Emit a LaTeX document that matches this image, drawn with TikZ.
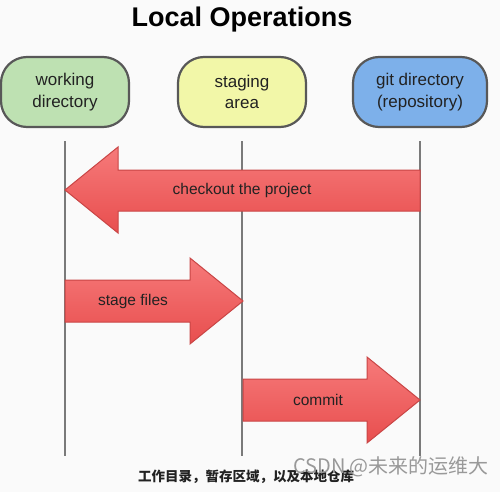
\documentclass[tikz,border=0pt]{standalone}
\usepackage{fontspec}
\setmainfont{Liberation Sans}
\newfontfamily\cjk{Noto Sans CJK SC}
\definecolor{bg}{HTML}{FAFAFA}
\definecolor{greenfill}{HTML}{BEE1B2}
\definecolor{yellowfill}{HTML}{F2F7A8}
\definecolor{bluefill}{HTML}{7DB0EA}
\definecolor{boxborder}{HTML}{585858}
\definecolor{lanegray}{HTML}{7A7A7A}
\definecolor{arrowtop}{HTML}{F67A7A}
\definecolor{arrowbot}{HTML}{E84E4E}
\definecolor{arrowedge}{HTML}{C94545}
\definecolor{txt}{HTML}{222222}
\begin{document}
\begin{tikzpicture}[x=1pt,y=-1pt,
  store/.style={draw=boxborder, line width=2.2pt, rounded corners=26pt,
    minimum width=128pt, minimum height=70pt, align=center,
    font=\fontsize{17}{21.5}\selectfont, text=txt},
  lane/.style={draw=lanegray, line width=2pt},
  bigarrow/.style={draw=arrowedge, line width=1pt, top color=arrowtop,
    bottom color=arrowbot, line join=miter},
  arrowlabel/.style={font=\fontsize{15.5}{18}\selectfont, text=txt}]
\path[fill=bg] (0,0) rectangle (500,492);
\useasboundingbox (0,0) rectangle (500,492);

\node[anchor=base, text=black] (title) at (242,27) {\fontsize{27}{30}\selectfont\bfseries Local Operations};

% lanes
\coordinate (wdtop) at (65,141);  \coordinate (wdbot) at (65,456);
\coordinate (sttop) at (242,141); \coordinate (stbot) at (242,456);
\coordinate (gdtop) at (420,141); \coordinate (gdbot) at (420,456);
\draw[lane] (wdtop) -- (wdbot);
\draw[lane] (sttop) -- (stbot);
\draw[lane] (gdtop) -- (gdbot);

% stores
\node[store, fill=greenfill]  (wd) at (65,92)  {working\\directory};
\node[store, fill=yellowfill] (st) at (242,92) {staging\\area};
\node[store, fill=bluefill, minimum width=134pt] (gd) at (420,92) {git directory\\(repository)};

% arrows
\draw[bigarrow] (420,170) -- (118,170) -- (118,147) -- (65,190) -- (118,233) -- (118,211) -- (420,211) -- cycle;
\node[arrowlabel] (checkout) at (242,190) {checkout the project};

\draw[bigarrow] (65,280) -- (190,280) -- (190,258) -- (243,301) -- (190,344) -- (190,322) -- (65,322) -- cycle;
\node[arrowlabel] (stage) at (133,301) {stage files};

\draw[bigarrow] (243,379) -- (367,379) -- (367,357) -- (420,400) -- (367,443) -- (367,421) -- (243,421) -- cycle;
\node[arrowlabel] (commit) at (318,400) {commit};

% caption and watermark
\node[text=txt] (caption) at (246,477) {\cjk\bfseries\fontsize{13.5}{16}\selectfont 工作目录，暂存区域，以及本地仓库};
\node[text=black!40] (wm) at (391,467) {\cjk\fontsize{20}{23}\selectfont CSDN @未来的运维大};
\end{tikzpicture}
\end{document}
